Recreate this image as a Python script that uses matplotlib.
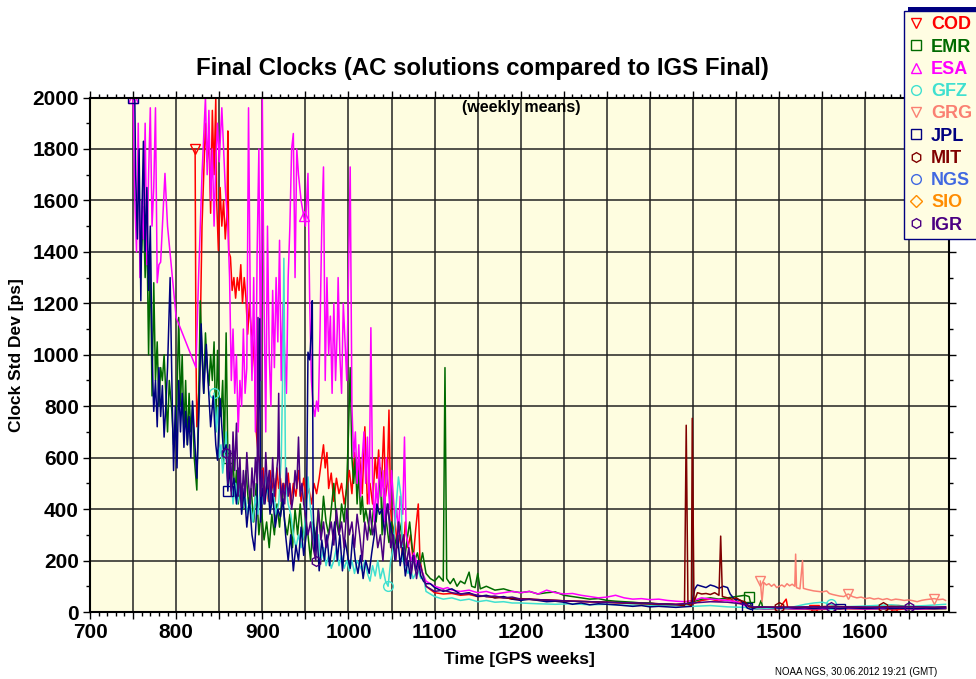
import numpy as np
import matplotlib
matplotlib.use("Agg")
import matplotlib.pyplot as plt
from matplotlib.lines import Line2D
from matplotlib.patches import Rectangle
from matplotlib.ticker import MultipleLocator, FuncFormatter

plt.rcParams['font.family'] = ['Liberation Sans', 'DejaVu Sans']

# weekly means (GPS week, clock std dev in ps)
cod = [(822, 1800), (823, 1000), (824, 720), (827, 900), (830, 1500), (832, 1700), (834, 1900),
       (836, 1750), (838, 1850), (840, 1550), (842, 1950), (844, 1700), (846, 2000), (847, 1600),
       (849, 1405), (851, 1650), (853, 1500), (855, 1600), (857, 1450), (859, 1550), (860, 1870),
       (861, 1400), (863, 1380), (865, 1250), (867, 1300), (869, 1220), (871, 1300), (873, 1250),
       (875, 1350), (877, 1200), (879, 1300), (881, 1220), (883, 1080), (885, 1200), (887, 1100),
       (889, 1050), (891, 950), (893, 700), (895, 620), (897, 580), (899, 520), (901, 560),
       (903, 450), (905, 500), (907, 430), (909, 550), (911, 470), (913, 520), (915, 430),
       (917, 560), (919, 480), (921, 520), (923, 440), (925, 500), (927, 460), (930, 540),
       (933, 420), (936, 500), (939, 450), (942, 550), (945, 430), (948, 520), (951, 440),
       (954, 480), (957, 420), (960, 500), (963, 460), (966, 520), (969, 600), (971, 650),
       (973, 560), (975, 620), (977, 480), (980, 540), (983, 430), (986, 520), (989, 460),
       (992, 500), (995, 420), (998, 480), (1001, 550), (1004, 460), (1007, 620), (1010, 500),
       (1013, 600), (1016, 460), (1019, 720), (1022, 420), (1025, 500), (1028, 420), (1031, 600),
       (1033, 520), (1035, 630), (1037, 500), (1039, 550), (1041, 720), (1043, 450), (1045, 500),
       (1047, 785), (1049, 400), (1051, 300), (1054, 350), (1057, 250), (1060, 300), (1063, 200),
       (1066, 350), (1069, 250), (1072, 300), (1075, 200), (1078, 320), (1081, 420), (1083, 200),
       (1086, 150), (1090, 100), (1100, 75), (1110, 70), (1120, 72), (1130, 65), (1140, 68),
       (1150, 60), (1160, 62), (1170, 55), (1180, 58), (1190, 50), (1200, 52), (1220, 48),
       (1240, 45), (1260, 42), (1280, 40), (1300, 38), (1320, 35), (1340, 36), (1360, 32),
       (1380, 30), (1400, 32), (1410, 45), (1420, 50), (1430, 42), (1440, 48), (1450, 40),
       (1460, 35), (1465, 15), (1480, 12), (1500, 14), (1508, 50), (1510, 14), (1530, 12),
       (1540, 8), (1560, 12), (1580, 13), (1600, 12), (1620, 14), (1633, 8), (1650, 13),
       (1670, 12), (1693, 14)]

emr = [(760, 1400), (762, 1575), (764, 1300), (766, 1500), (768, 1000), (770, 1400), (772, 840),
       (774, 1280), (776, 900), (778, 1050), (780, 800), (782, 950), (784, 900), (786, 1000),
       (788, 850), (790, 700), (792, 900), (795, 780), (797, 650), (800, 700), (803, 1145),
       (805, 800), (807, 1000), (809, 700), (811, 900), (813, 650), (815, 850), (817, 700),
       (819, 800), (821, 600), (824, 474), (826, 800), (828, 1210), (830, 1000), (832, 850),
       (834, 1085), (836, 950), (838, 880), (840, 1000), (842, 900), (844, 1050), (846, 700),
       (848, 1017), (850, 800), (852, 760), (854, 900), (856, 620), (858, 1085), (860, 600),
       (862, 550), (864, 500), (866, 600), (868, 450), (870, 550), (872, 420), (875, 500),
       (878, 400), (881, 550), (884, 420), (887, 480), (890, 350), (893, 500), (896, 300),
       (899, 400), (902, 280), (905, 350), (908, 250), (911, 380), (914, 300), (917, 420),
       (920, 330), (923, 460), (926, 350), (929, 300), (932, 380), (935, 250), (938, 400),
       (941, 300), (944, 420), (947, 280), (950, 350), (953, 300), (956, 200), (959, 350),
       (962, 280), (965, 400), (968, 300), (971, 450), (974, 350), (977, 300), (980, 400),
       (983, 500), (986, 350), (989, 300), (992, 420), (995, 350), (998, 500), (1000, 700),
       (1002, 950), (1004, 600), (1006, 500), (1008, 600), (1010, 420), (1012, 550), (1014, 380),
       (1016, 450), (1018, 350), (1020, 400), (1023, 345), (1026, 300), (1029, 400), (1032, 350),
       (1035, 450), (1037, 560), (1039, 300), (1041, 480), (1044, 350), (1047, 270), (1050, 350),
       (1053, 300), (1056, 250), (1059, 350), (1062, 300), (1065, 200), (1068, 280), (1071, 350),
       (1074, 250), (1077, 200), (1080, 230), (1083, 180), (1086, 230), (1090, 150), (1095, 130),
       (1100, 120), (1105, 140), (1110, 120), (1112, 950), (1114, 130), (1118, 110), (1122, 130),
       (1126, 100), (1130, 120), (1135, 110), (1140, 155), (1143, 100), (1147, 95), (1150, 150),
       (1153, 90), (1160, 100), (1170, 85), (1180, 90), (1190, 80), (1200, 75), (1210, 80),
       (1220, 70), (1230, 75), (1240, 78), (1250, 65), (1260, 60), (1270, 55), (1280, 50),
       (1290, 52), (1300, 45), (1310, 42), (1320, 40), (1330, 38), (1340, 35), (1350, 35),
       (1360, 30), (1370, 32), (1380, 28), (1390, 30), (1400, 40), (1410, 50), (1420, 55),
       (1430, 50), (1440, 55), (1450, 60), (1460, 65), (1465, 60), (1468, 15), (1475, 12),
       (1479, 45), (1481, 12), (1500, 14), (1520, 12), (1540, 13), (1560, 12), (1580, 14),
       (1600, 13), (1620, 12), (1640, 14), (1660, 13), (1680, 12), (1693, 13)]

esa = [(750, 2000), (752, 1600), (754, 1400), (756, 1900), (758, 1300), (760, 1600), (762, 1450),
       (764, 1900), (766, 1350), (768, 1700), (770, 1960), (772, 1500), (774, 1650), (776, 1960),
       (778, 1280), (780, 1350), (782, 1360), (784, 1500), (787, 1705), (790, 1500), (800, 1145),
       (823, 950), (826, 1300), (830, 1700), (834, 2000), (836, 1700), (838, 1950), (840, 1600),
       (842, 1800), (844, 1500), (846, 1750), (848, 1900), (850, 1750), (853, 1960), (855, 1800),
       (857, 1650), (860, 1500), (862, 1300), (864, 900), (866, 1100), (868, 850), (870, 1000),
       (872, 700), (874, 900), (876, 800), (878, 1100), (880, 850), (882, 950), (884, 1960),
       (886, 1200), (888, 900), (890, 1300), (892, 700), (894, 1400), (896, 1800), (898, 900),
       (900, 1995), (902, 1200), (904, 700), (906, 1500), (908, 1000), (910, 800), (912, 1250),
       (914, 950), (916, 1300), (918, 1050), (920, 1445), (922, 900), (924, 1200), (926, 1000),
       (928, 850), (930, 1300), (932, 1500), (934, 1800), (936, 1860), (938, 1300), (940, 1800),
       (942, 1700), (945, 1600), (948, 1540), (950, 1500), (953, 1705), (955, 1200), (957, 900),
       (959, 800), (961, 760), (963, 820), (965, 780), (967, 1100), (969, 1500), (971, 1730),
       (973, 900), (975, 1300), (977, 1000), (979, 1150), (981, 850), (983, 1200), (985, 900),
       (987, 1100), (988, 1300), (990, 1000), (992, 850), (994, 1200), (996, 1050), (998, 900),
       (1000, 1300), (1002, 1730), (1004, 800), (1006, 600), (1008, 700), (1010, 500),
       (1012, 650), (1014, 450), (1016, 600), (1018, 700), (1020, 500), (1022, 680), (1024, 420),
       (1026, 1105), (1028, 500), (1030, 350), (1032, 500), (1034, 400), (1036, 600), (1038, 450),
       (1040, 550), (1042, 350), (1044, 600), (1046, 500), (1048, 400), (1050, 550), (1052, 450),
       (1054, 350), (1056, 400), (1058, 300), (1060, 450), (1063, 380), (1065, 680), (1067, 300),
       (1070, 250), (1073, 200), (1076, 230), (1080, 180), (1085, 160), (1090, 120), (1095, 110),
       (1100, 100), (1105, 95), (1110, 90), (1115, 95), (1120, 85), (1130, 80), (1140, 85),
       (1150, 75), (1160, 80), (1170, 70), (1180, 75), (1190, 80), (1200, 75), (1210, 80),
       (1220, 70), (1230, 85), (1240, 75), (1250, 70), (1260, 72), (1270, 65), (1280, 60),
       (1290, 55), (1300, 58), (1310, 65), (1320, 55), (1330, 50), (1340, 52), (1350, 48),
       (1360, 50), (1370, 45), (1380, 42), (1390, 40), (1400, 45), (1410, 55), (1420, 50),
       (1430, 48), (1440, 45), (1450, 40), (1460, 25), (1465, 15), (1480, 12), (1500, 14),
       (1520, 12), (1540, 13), (1560, 12), (1580, 14), (1600, 12), (1620, 13), (1640, 14),
       (1660, 12), (1680, 13), (1693, 14)]

gfz = [(844, 850), (846, 700), (848, 796), (850, 600), (852, 650), (854, 540), (856, 600),
       (858, 700), (860, 480), (863, 560), (866, 420), (869, 500), (871, 420), (874, 480),
       (877, 400), (880, 450), (883, 380), (886, 420), (889, 350), (892, 450), (895, 380),
       (898, 500), (901, 420), (904, 540), (907, 450), (910, 400), (913, 480), (916, 380),
       (919, 420), (922, 600), (924, 1000), (925, 1375), (927, 500), (930, 420), (933, 380),
       (936, 300), (939, 250), (942, 300), (945, 250), (948, 300), (951, 400), (953, 525),
       (956, 400), (959, 300), (962, 250), (965, 300), (968, 200), (971, 250), (974, 180),
       (977, 220), (980, 170), (983, 200), (986, 250), (989, 180), (992, 220), (995, 170),
       (998, 200), (1001, 160), (1004, 200), (1007, 150), (1010, 200), (1013, 180), (1016, 160),
       (1019, 200), (1022, 150), (1025, 120), (1028, 180), (1031, 140), (1034, 200), (1037, 130),
       (1040, 170), (1043, 120), (1046, 100), (1049, 200), (1052, 250), (1055, 400), (1058, 525),
       (1061, 450), (1063, 200), (1066, 180), (1069, 150), (1072, 170), (1075, 130), (1078, 150),
       (1081, 160), (1084, 130), (1087, 140), (1090, 80), (1095, 70), (1100, 60), (1110, 50),
       (1120, 55), (1130, 45), (1140, 50), (1150, 40), (1160, 45), (1170, 38), (1180, 40),
       (1190, 35), (1200, 35), (1220, 32), (1240, 30), (1260, 32), (1280, 28), (1300, 30),
       (1320, 26), (1340, 28), (1360, 25), (1380, 24), (1400, 22), (1420, 25), (1440, 20),
       (1460, 18), (1470, 12), (1490, 14), (1510, 15), (1530, 30), (1540, 35), (1550, 38),
       (1560, 30), (1570, 20), (1590, 22), (1610, 25), (1630, 28), (1650, 22), (1670, 25),
       (1693, 30)]

grg = [(1478, 120), (1480, 40), (1482, 115), (1485, 105), (1488, 110), (1491, 100), (1494, 108),
       (1497, 95), (1500, 100), (1503, 105), (1506, 98), (1509, 110), (1512, 102), (1515, 108),
       (1518, 100), (1519, 225), (1520, 95), (1524, 90), (1527, 200), (1528, 92), (1532, 88),
       (1536, 85), (1540, 82), (1545, 80), (1550, 78), (1555, 82), (1558, 72), (1562, 68),
       (1566, 65), (1570, 62), (1575, 60), (1580, 70), (1585, 60), (1590, 55), (1595, 58),
       (1600, 52), (1605, 55), (1610, 50), (1615, 53), (1620, 48), (1625, 52), (1630, 46),
       (1635, 50), (1640, 48), (1645, 45), (1650, 47), (1655, 44), (1660, 40), (1665, 45),
       (1670, 48), (1675, 50), (1680, 52), (1685, 48), (1690, 50), (1693, 45)]

jpl = [(750, 2000), (752, 1990), (753, 1700), (755, 1450), (757, 1800), (759, 1210), (760, 1500),
       (762, 1830), (764, 1400), (766, 1650), (768, 1250), (770, 1500), (772, 1000), (774, 780),
       (776, 900), (778, 720), (780, 950), (782, 760), (784, 880), (786, 680), (788, 800),
       (790, 950), (793, 1300), (795, 900), (797, 550), (799, 800), (801, 560), (803, 900),
       (805, 700), (807, 850), (809, 640), (811, 780), (813, 650), (815, 760), (817, 600),
       (819, 820), (821, 700), (824, 520), (827, 840), (829, 1120), (832, 850), (835, 1040),
       (837, 900), (840, 720), (843, 840), (846, 650), (848, 590), (851, 830), (853, 720),
       (855, 620), (858, 650), (860, 470), (861, 560), (864, 470), (867, 520), (870, 420),
       (873, 560), (876, 380), (879, 480), (882, 330), (885, 440), (888, 300), (891, 240),
       (894, 430), (897, 1140), (898, 350), (900, 480), (903, 420), (906, 520), (909, 380),
       (912, 460), (915, 330), (918, 400), (921, 370), (924, 440), (927, 300), (930, 200),
       (933, 300), (936, 160), (939, 260), (942, 200), (945, 330), (948, 220), (951, 300),
       (953, 1010), (955, 980), (957, 1100), (958, 1210), (959, 400), (961, 220), (963, 330),
       (966, 160), (969, 280), (972, 200), (975, 300), (978, 180), (981, 260), (984, 350),
       (987, 200), (990, 300), (993, 160), (996, 280), (999, 220), (1002, 170), (1005, 300),
       (1008, 200), (1011, 150), (1014, 220), (1017, 130), (1020, 200), (1024, 150), (1027, 230),
       (1030, 300), (1033, 420), (1036, 380), (1039, 400), (1042, 300), (1045, 420), (1048, 350),
       (1051, 300), (1054, 200), (1057, 300), (1060, 180), (1063, 250), (1066, 140), (1069, 200),
       (1072, 130), (1075, 220), (1078, 160), (1081, 200), (1084, 140), (1087, 120), (1090, 110),
       (1095, 110), (1100, 95), (1110, 80), (1120, 90), (1130, 70), (1140, 75), (1150, 60),
       (1160, 65), (1170, 55), (1180, 60), (1190, 50), (1200, 45), (1210, 50), (1220, 45),
       (1230, 40), (1240, 42), (1250, 38), (1260, 30), (1270, 35), (1280, 28), (1290, 32),
       (1300, 30), (1310, 28), (1320, 25), (1330, 22), (1340, 25), (1350, 20), (1360, 22),
       (1370, 20), (1380, 18), (1390, 20), (1398, 22), (1402, 90), (1405, 105), (1410, 100),
       (1415, 95), (1420, 105), (1425, 100), (1430, 92), (1435, 100), (1440, 95), (1443, 70),
       (1448, 50), (1455, 45), (1460, 30), (1463, 15), (1467, 10), (1475, 20), (1490, 18),
       (1500, 15), (1510, 17), (1520, 15), (1530, 16), (1540, 14), (1550, 16), (1560, 15),
       (1570, 13), (1580, 16), (1590, 15), (1600, 14), (1610, 15), (1620, 16), (1630, 14),
       (1640, 15), (1650, 14), (1660, 13), (1670, 15), (1680, 14), (1693, 16)]

mit = [(1160, 60), (1180, 55), (1200, 50), (1220, 48), (1240, 45), (1260, 42), (1280, 40),
       (1300, 38), (1320, 35), (1340, 32), (1360, 30), (1380, 28), (1390, 25), (1392, 726),
       (1394, 30), (1398, 25), (1399, 753), (1401, 40), (1405, 75), (1410, 70), (1415, 72),
       (1420, 68), (1425, 75), (1430, 65), (1432, 295), (1434, 60), (1440, 55), (1445, 50),
       (1450, 55), (1455, 45), (1460, 40), (1465, 20), (1470, 18), (1480, 18), (1500, 20),
       (1520, 18), (1540, 20), (1560, 22), (1580, 20), (1600, 18), (1620, 20), (1640, 22),
       (1660, 20), (1680, 18), (1693, 20)]

ngs = []
sio = []

igr = [(858, 617), (860, 500), (862, 650), (864, 450), (866, 700), (868, 550), (870, 734),
       (872, 450), (874, 600), (876, 408), (878, 550), (880, 450), (882, 620), (884, 500),
       (886, 420), (888, 560), (890, 450), (892, 600), (894, 500), (895, 1145), (896, 600),
       (898, 450), (900, 550), (902, 420), (904, 620), (906, 480), (908, 550), (910, 420),
       (912, 600), (914, 450), (916, 520), (918, 600), (919, 850), (920, 550), (922, 430),
       (924, 500), (926, 420), (928, 560), (930, 450), (932, 500), (934, 400), (936, 450),
       (938, 550), (940, 480), (942, 680), (944, 450), (946, 500), (948, 420), (950, 380),
       (953, 300), (956, 350), (959, 250), (962, 200), (965, 400), (968, 280), (971, 350),
       (974, 250), (977, 300), (980, 350), (983, 260), (986, 400), (989, 300), (992, 350),
       (995, 250), (998, 400), (1001, 300), (1004, 350), (1007, 250), (1010, 380), (1013, 300),
       (1016, 200), (1019, 350), (1022, 280), (1025, 400), (1028, 300), (1031, 350), (1034, 250),
       (1037, 300), (1040, 200), (1043, 350), (1046, 420), (1049, 250), (1052, 300), (1055, 200),
       (1058, 350), (1061, 250), (1064, 300), (1067, 180), (1070, 250), (1073, 150), (1076, 220),
       (1079, 130), (1082, 200), (1086, 150), (1090, 100), (1095, 90), (1100, 80), (1110, 85),
       (1120, 75), (1130, 70), (1140, 72), (1150, 65), (1160, 60), (1170, 62), (1180, 55),
       (1190, 58), (1200, 50), (1220, 48), (1240, 45), (1260, 42), (1280, 40), (1300, 38),
       (1320, 36), (1340, 35), (1360, 32), (1380, 30), (1400, 35), (1420, 40), (1440, 38),
       (1460, 30), (1470, 20), (1500, 18), (1530, 20), (1560, 19), (1590, 20), (1620, 18),
       (1650, 20), (1680, 19), (1693, 20)]

centers = ["COD", "EMR", "ESA", "GFZ", "GRG", "JPL", "MIT", "NGS", "SIO", "IGR"]
series = [cod, emr, esa, gfz, grg, jpl, mit, ngs, sio, igr]
# weeks where the reference shows a symbol on the line
mark_weeks = [[822, 1540, 1633], [860, 1465], [750, 948], [844, 1046, 1560],
              [1478, 1580, 1680], [750, 860, 1465, 1570], [1500, 1620], [], [],
              [858, 962, 1560, 1650]]
colors = ["#ff0000", "#006a00", "#ff00ff", "#40e0d0", "#fa8072",
          "#000080", "#800000", "#4169e1", "#ff8c00", "#4b0082"]
markers = ["v", "s", "^", "o", "v", "s", "h", "o", "D", "h"]

fig = plt.figure(figsize=(9.76, 6.79), dpi=100)
ax = fig.add_axes([90/976, 1-612/679, (949-90)/976, (612-97.5)/679])
ax.set_facecolor("#fefde0")

for name, data, mw, c, m in zip(centers, series, mark_weeks, colors, markers):
    if not data:
        continue
    arr = np.array(data)
    idx = [int(np.argmin(np.abs(arr[:, 0] - w))) for w in mw]
    ax.plot(arr[:, 0], arr[:, 1], color=c, lw=1.1, marker=m, ms=7 if m != "D" else 5,
            mfc="none", mec=c, mew=1.0, markevery=idx)

ax.set_xlim(700, 1697)
ax.set_ylim(0, 2000)
ax.xaxis.set_major_locator(MultipleLocator(50))
ax.xaxis.set_minor_locator(MultipleLocator(10))
ax.xaxis.set_major_formatter(FuncFormatter(lambda v, p: f"{v:.0f}" if v % 100 == 0 else ""))
ax.yaxis.set_major_locator(MultipleLocator(200))
ax.yaxis.set_minor_locator(MultipleLocator(100))
ax.grid(True, which="major", color="#222222", lw=1.1)
ax.tick_params(which="both", direction="out", top=True, right=True, width=1, color="black")
ax.tick_params(which="major", length=5, labelsize=15, pad=3)
ax.tick_params(which="minor", length=3)
for lab in ax.get_xticklabels() + ax.get_yticklabels():
    lab.set_fontweight("bold")
for s in ax.spines.values():
    s.set_linewidth(1.5)

ax.set_xlabel("Time [GPS weeks]", fontsize=12.5, fontweight="bold", labelpad=7)
ax.set_ylabel("Clock Std Dev [ps]", fontsize=12.5, fontweight="bold", labelpad=6)
fig.text(482/976, 1-68/679, "Final Clocks (AC solutions compared to IGS Final)",
         ha="center", va="center", fontsize=17.3, fontweight="bold")
ax.text(1200, 1990, "(weekly means)", ha="center", va="top", fontsize=11.5, fontweight="bold")
fig.text(937/976, 1-672/679, "NOAA NGS, 30.06.2012 19:21 (GMT)", ha="right", va="center",
         fontsize=7)

# legend with offset navy backing
handles = [Line2D([], [], ls="none", marker=m, ms=7 if m != "D" else 6, mfc="none", mec=c,
                  color=c, mew=1.0) for c, m in zip(colors, markers)]
fig.patches.append(Rectangle((908/976, 1-223/679), 80/976, 216/679, transform=fig.transFigure,
                             facecolor="#000080", edgecolor="none", zorder=4))
leg = fig.legend(handles, centers, loc="upper left", bbox_to_anchor=(904/976, 1-11/679),
                 frameon=True, fancybox=False, facecolor="#fffde2", edgecolor="#000080",
                 framealpha=1, prop={"weight": "bold", "size": 13}, labelcolor="linecolor",
                 handlelength=0.7, handletextpad=0.5, labelspacing=0.29, borderpad=0.3,
                 borderaxespad=0)
leg.set_zorder(5)
leg.get_frame().set_linewidth(1.0)

fig.savefig("out.png", dpi=100)
